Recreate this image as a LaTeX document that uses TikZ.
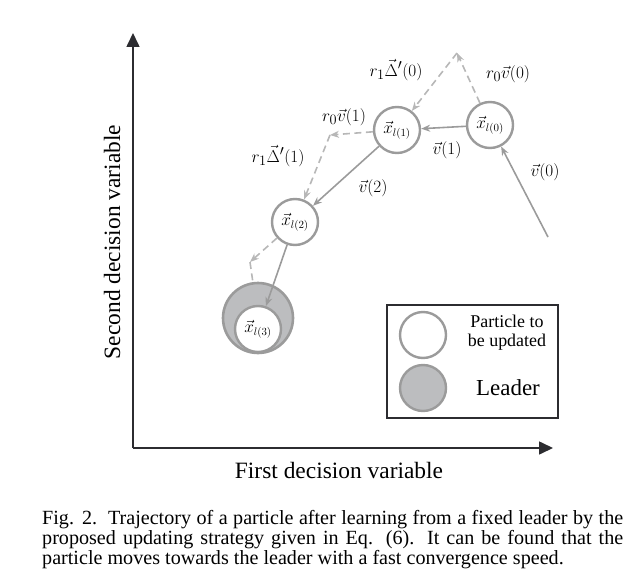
\documentclass[tikz,border=0pt]{standalone}
\usepackage{amsmath}
\usepackage{fontspec}
\setmainfont{Liberation Serif}
\usepackage{tikz}
\usetikzlibrary{arrows.meta}
\usetikzlibrary{positioning}

\definecolor{pgray}{HTML}{9B9B9B}
\definecolor{dgray}{HTML}{B7B7B7}
\definecolor{lfill}{HTML}{BCBDBF}
\definecolor{axisc}{HTML}{2C2C30}

\tikzset{
  particle/.style={draw=pgray, circle, line width=2.4bp, fill=white, minimum size=46bp, inner sep=0pt, font=\fontsize{16}{18}\selectfont},
  leader/.style={draw=pgray, circle, line width=2.6bp, fill=lfill, minimum size=70bp, inner sep=0pt},
  legleader/.style={draw=pgray, circle, line width=2.4bp, fill=lfill, minimum size=46bp, inner sep=0pt},
  move/.style={pgray, line width=1.6bp, -{Stealth[length=9bp,width=7bp]}},
  learn/.style={dgray, line width=1.6bp, dash pattern=on 7bp off 4.5bp, -{Stealth[length=9bp,width=7bp]}},
  axis/.style={axisc, line width=1.6bp, -{Triangle[length=14bp,width=13bp]}},
  lbl/.style={font=\fontsize{19}{22}\selectfont, inner sep=1pt}
}

\begin{document}
\begin{tikzpicture}[x=1bp,y=-1bp]
\useasboundingbox (0,0) rectangle (631,578);
% axes
\coordinate (O) at (133,448);
\coordinate (ytip) at (133,33);
\coordinate (xtip) at (553,448);
\draw[axis] (O) -- (ytip);
\draw[axis] (O) -- (xtip);
\node[rotate=90, font=\fontsize{23.5}{26}\selectfont] (ylab) at (112,242) {Second decision variable};
\node[font=\fontsize{23.5}{26}\selectfont] (xlab) at (339,470) {First decision variable};

% particles
\node[leader] (ld) at (258,318) {};
\node[particle] (x0) at (490,125) {$\vec{x}_{l(0)}$};
\node[particle] (x1) at (397,130) {$\vec{x}_{l(1)}$};
\node[particle] (x2) at (295,222) {$\vec{x}_{l(2)}$};
\node[particle] (x3) at (258,329) {$\vec{x}_{l(3)}$};

% turning points of the dashed moves
\coordinate (s0) at (548,237);
\coordinate (p0) at (457,53);
\coordinate (p1) at (330,135);
\coordinate (p2) at (250,262);

% dashed parts
\draw[learn] (x0) -- (p0);
\draw[learn] (p0) -- (x1);
\draw[learn] (x1) -- (p1);
\draw[learn] (p1) -- (x2);
\draw[learn] (x2) -- (p2);
\draw[learn,-] (p2) -- (ld);

% velocities
\draw[move] (s0) -- (x0);
\draw[move] (x0) -- (x1);
\draw[move] (x1) -- (x2);
\draw[move] (x2) -- (x3);

% labels
\node[lbl] (lv0) at (545,172) {$\vec{v}(0)$};
\node[lbl] (lv1) at (447,150) {$\vec{v}(1)$};
\node[lbl] (lv2) at (373,188) {$\vec{v}(2)$};
\node[lbl] (lrv0) at (508,74) {$r_0\vec{v}(0)$};
\node[lbl] (lrd0) at (396,70) {$r_1\vec{\Delta}'(0)$};
\node[lbl] (lrv1) at (344,117) {$r_0\vec{v}(1)$};
\node[lbl] (lrd1) at (278,156) {$r_1\vec{\Delta}'(1)$};

% legend
\node[draw=axisc, line width=1.3bp, minimum width=171bp, minimum height=113bp, inner sep=0pt] (leg) at (472.5,361.5) {};
\node[particle] (legp) at (423,335) {};
\node[legleader] (legl) at (423,388) {};
\node[align=center, font=\fontsize{18}{19}\selectfont] (legpt) at (507,333) {Particle to\\be updated};
\node[font=\fontsize{23}{26}\selectfont] (leglt) at (508,388) {Leader};

% caption
\node[anchor=north west, align=left, inner sep=0pt, font=\fontsize{20.2}{20}\selectfont] (cap) at (42,510)
  {\makebox[581bp][s]{Fig. 2.\ \ Trajectory of a particle after learning from a fixed leader by the}\\
   \makebox[581bp][s]{proposed updating strategy given in Eq. (6). It can be found that the}\\
   particle moves towards the leader with a fast convergence speed.};
\end{tikzpicture}
\end{document}
